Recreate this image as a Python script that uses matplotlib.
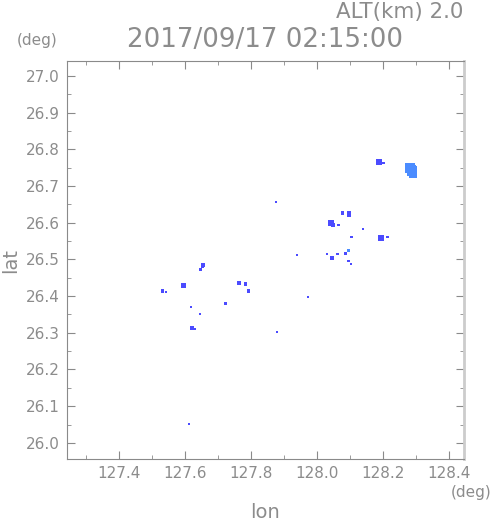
import matplotlib
matplotlib.use('Agg')
import matplotlib.pyplot as plt
from matplotlib.ticker import MultipleLocator, FormatStrFormatter

# echo cells (lon, lat, marker size)
lon_dark = [128.188, 128.200, 127.876, 128.042, 128.048, 128.064, 128.076, 128.097, 128.097,
            128.139, 128.103, 128.194, 128.212, 128.030, 128.061, 128.045, 128.085, 128.094,
            128.103, 127.939, 127.973, 127.655, 127.652, 127.646, 127.764, 127.782, 127.791,
            127.594, 127.530, 127.542, 127.721, 127.618, 127.645, 127.621, 127.630, 127.879,
            127.612]
lat_dark = [26.766, 26.763, 26.657, 26.599, 26.594, 26.594, 26.627, 26.627, 26.619,
            26.583, 26.561, 26.558, 26.561, 26.515, 26.515, 26.504, 26.515, 26.496,
            26.488, 26.512, 26.398, 26.485, 26.480, 26.472, 26.436, 26.433, 26.414,
            26.430, 26.414, 26.411, 26.379, 26.371, 26.351, 26.314, 26.311, 26.302,
            26.052]
size_dark = [22, 4, 3, 18, 6, 4, 6, 10, 6,
             4, 4, 22, 4, 3, 4, 5, 5, 4,
             3, 3, 2, 7, 5, 3, 8, 5, 5,
             14, 5, 3, 5, 2, 4, 9, 3, 3,
             3]

lon_light = [128.281, 128.288, 128.291, 128.285, 128.094]
lat_light = [26.750, 26.742, 26.733, 26.746, 26.524]
size_light = [50, 50, 30, 40, 6]

gray = '#8a8a8a'
tcol = '#8c8c8c'

fig = plt.figure(figsize=(4.91, 5.21), dpi=100)
ax = fig.add_axes([0.1365, 0.119, 0.8086, 0.764])

ax.scatter(lon_light, lat_light, s=size_light, marker='s', c='#4b8cff', linewidths=0)
ax.scatter(lon_dark, lat_dark, s=size_dark, marker='s', c='#4b4bff', linewidths=0)

ax.set_xlim(127.242, 128.445)
ax.set_ylim(25.956, 27.041)
ax.xaxis.set_major_locator(MultipleLocator(0.2))
ax.xaxis.set_minor_locator(MultipleLocator(0.1))
ax.yaxis.set_major_locator(MultipleLocator(0.1))
ax.yaxis.set_minor_locator(MultipleLocator(0.05))
ax.xaxis.set_major_formatter(FormatStrFormatter('%.1f'))
ax.yaxis.set_major_formatter(FormatStrFormatter('%.1f'))

ax.tick_params(which='both', direction='in', top=True, right=True, color=gray,
               labelcolor=tcol, labelsize=11)
ax.tick_params(which='major', length=6, width=0.8, pad=5)
ax.tick_params(which='minor', length=3, width=0.6)
for name, sp in ax.spines.items():
    sp.set_color(gray)
    sp.set_linewidth(0.8)
ax.spines['right'].set_color('#cccccc')
ax.spines['right'].set_linewidth(2)

fig.text(0.943, 0.977, 'ALT(km) 2.0', ha='right', va='center', fontsize=15.4, color=tcol)
fig.text(0.54, 0.923, '2017/09/17 02:15:00', ha='center', va='center', fontsize=18.8, color=tcol)
fig.text(0.076, 0.923, '(deg)', ha='center', va='center', fontsize=11, color=tcol)
fig.text(0.959, 0.055, '(deg)', ha='center', va='center', fontsize=11, color=tcol)
fig.text(0.54, 0.017, 'lon', ha='center', va='center', fontsize=14, color=tcol)
fig.text(0.022, 0.5, 'lat', ha='center', va='center', rotation=90, fontsize=14, color=tcol)

fig.savefig('out.png', dpi=100)
